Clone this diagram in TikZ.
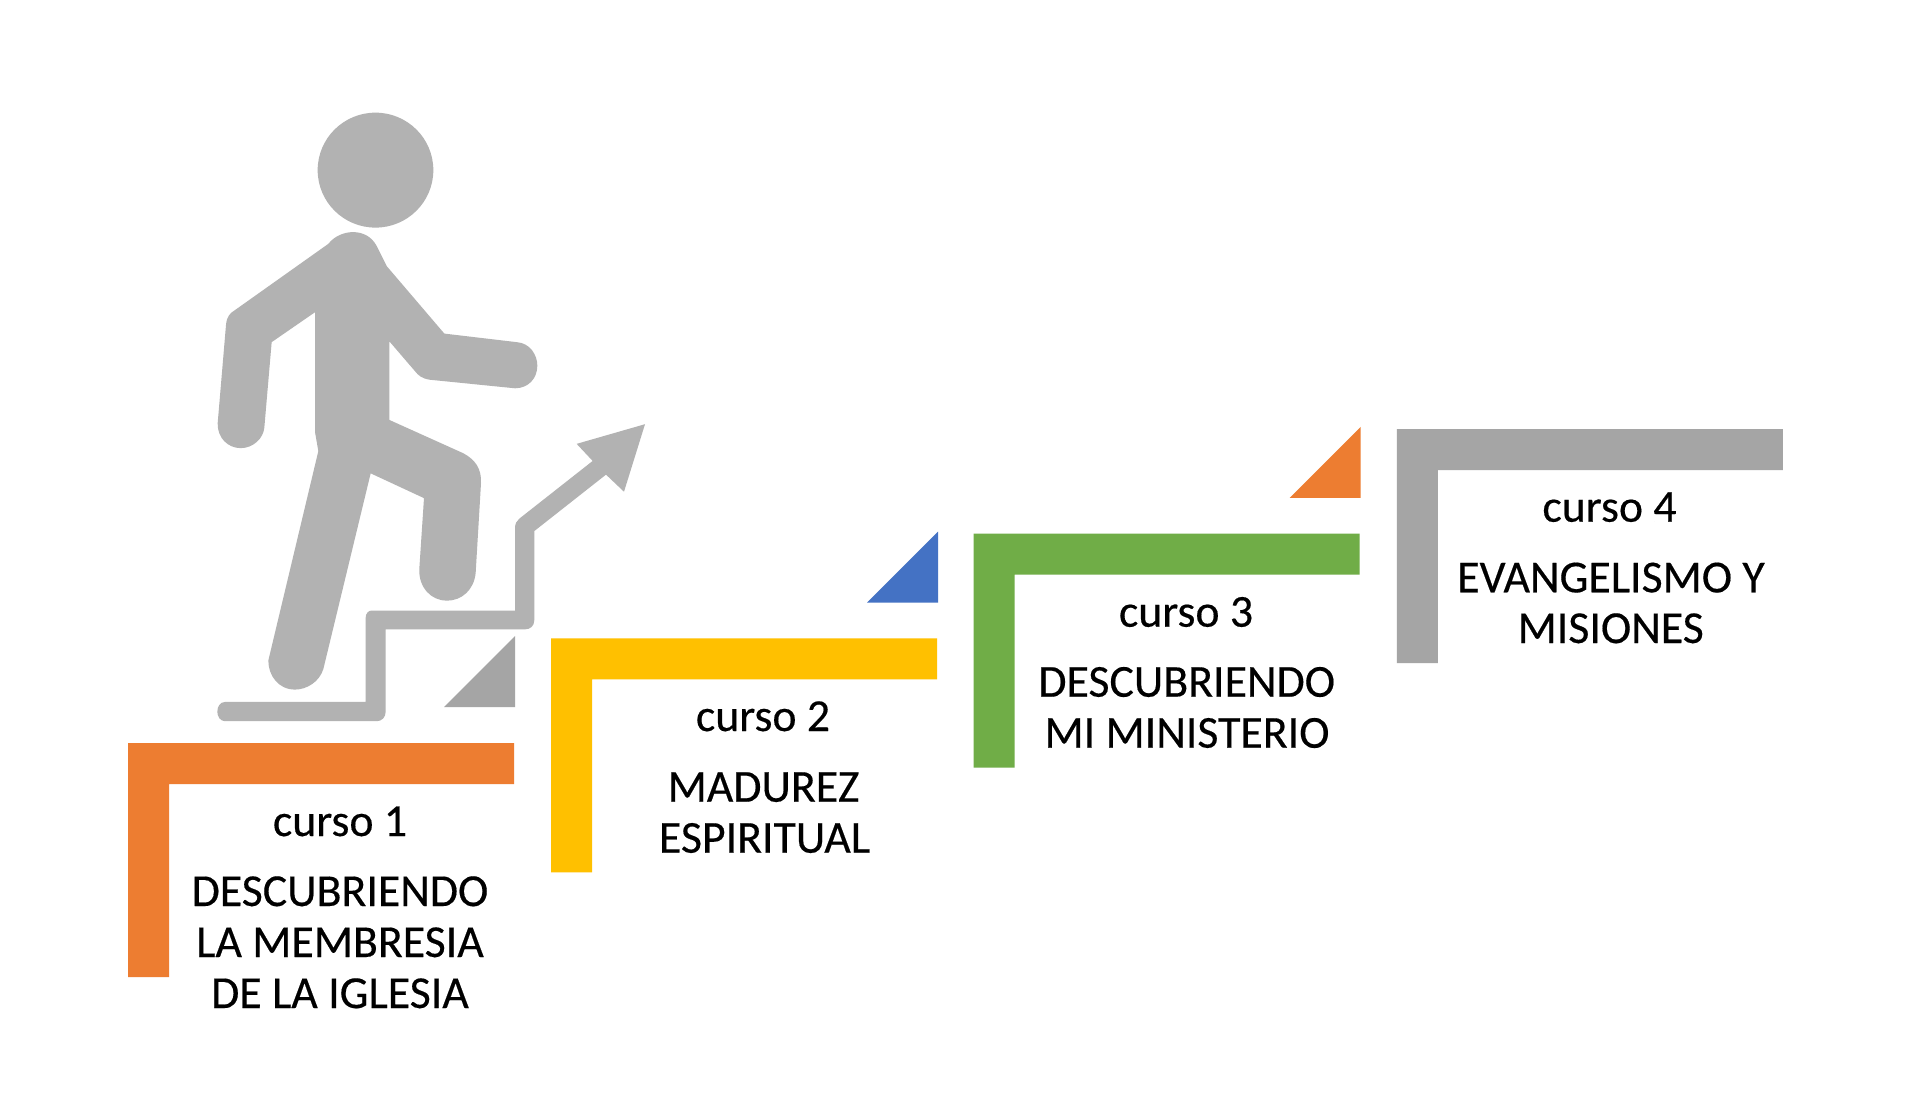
\documentclass[tikz,border=0pt]{standalone}
\usepackage{fontspec}
\setmainfont{Carlito}
\newfontfamily\lblfont{Carlito}[FakeBold=0.35]
\definecolor{cOrange}{HTML}{ED7D31}
\definecolor{cYellow}{HTML}{FFC000}
\definecolor{cGreen}{HTML}{70AD47}
\definecolor{cGrey}{HTML}{A5A5A5}
\definecolor{cBlue}{HTML}{4472C4}
\definecolor{cFig}{HTML}{B2B2B2}
\tikzset{
  lbl/.style={anchor=base,inner sep=0pt,font=\lblfont\fontsize{45.8}{50}\selectfont,text=black},
  figfill/.style={fill=cFig,draw=none}
}
\newcommand{\stepbracket}[3]{\fill[#3] (#1,#2) -- ++(386,0) -- ++(0,41) -- ++(-345,0) -- ++(0,193) -- ++(-41,0) -- cycle;}
\newcommand{\steptri}[3]{\fill[#3] (#1,#2) -- ++(0,71) -- ++(-71,0) -- cycle;}
\begin{document}
\begin{tikzpicture}[x=1pt,y=-1pt]
\useasboundingbox (0,0) rectangle (1926,1098);
\fill[white] (0,0) rectangle (1926,1098);
\stepbracket{128}{743}{cOrange}
\stepbracket{551}{638.3}{cYellow}
\stepbracket{973.7}{533.7}{cGreen}
\stepbracket{1396.9}{429}{cGrey}
\steptri{515}{636}{cGrey}
\steptri{938}{531.7}{cBlue}
\steptri{1360.7}{426.8}{cOrange}
\node[lbl] (c1) at (340,836) {curso 1};
\node[lbl] (t1a) at (340,906) {DESCUBRIENDO};
\node[lbl] (t1b) at (340,957) {LA MEMBRESIA};
\node[lbl] (t1c) at (340,1008) {DE LA IGLESIA};
\node[lbl] (c2) at (763,731) {curso 2};
\node[lbl] (t2a) at (763.5,801.7) {MADUREZ};
\node[lbl] (t2b) at (764.5,852.7) {ESPIRITUAL};
\node[lbl] (c3) at (1186,626.7) {curso 3};
\node[lbl] (t3a) at (1186.7,696.7) {DESCUBRIENDO};
\node[lbl] (t3b) at (1187,747.7) {MI MINISTERIO};
\node[lbl] (c4) at (1609.5,521.7) {curso 4};
\node[lbl] (t4a) at (1611,592.3) {EVANGELISMO Y};
\node[lbl] (t4b) at (1610.7,643) {MISIONES};
\begin{scope}[shift={(200,90)},x=0.33333pt,y=-0.42735pt]
\fill[figfill] (526.5,187.5) ellipse [x radius=173.5,y radius=134.5];
\fill[figfill] (385,360) .. controls (420,325) and (500,320) .. (530,365)
  -- (560,412) -- (733,570) -- (950,590)
  .. controls (990,592) and (1012,620) .. (1012,645)
  .. controls (1012,675) and (985,698) .. (945,698)
  -- (690,678) .. controls (665,675) and (655,668) .. (645,658)
  -- (568,588) -- (568,772) -- (790,850)
  .. controls (825,865) and (845,885) .. (843,920)
  -- (827,1130) .. controls (822,1170) and (785,1195) .. (740,1195)
  .. controls (695,1195) and (655,1165) .. (658,1120)
  -- (672,955) -- (512,897) -- (370,1355)
  .. controls (358,1385) and (320,1403) .. (285,1403)
  .. controls (235,1403) and (205,1370) .. (205,1335)
  -- (355,845) -- (345,800) -- (345,520) -- (215,590) -- (193,790)
  .. controls (190,815) and (160,838) .. (122,838)
  .. controls (85,838) and (52,815) .. (53,780)
  -- (78,550) .. controls (80,530) and (90,522) .. (105,515) -- cycle;
\fill[figfill] (75,1432) -- (497,1432) -- (497,1235)
  .. controls (497,1225) and (505,1218) .. (515,1218)
  -- (945,1218) -- (945,1025)
  .. controls (945,1015) and (950,1008) .. (958,1003)
  -- (1178,868) -- (1130,828) -- (1335,782) -- (1272,940) -- (1218,900)
  -- (1003,1032) -- (1003,1240)
  .. controls (1003,1255) and (990,1262) .. (975,1262)
  -- (557,1262) -- (557,1455)
  .. controls (557,1468) and (545,1477) .. (530,1477)
  -- (75,1477) .. controls (60,1477) and (52,1465) .. (52,1455)
  .. controls (52,1443) and (60,1432) .. (75,1432) -- cycle;
\end{scope}
\end{tikzpicture}
\end{document}
